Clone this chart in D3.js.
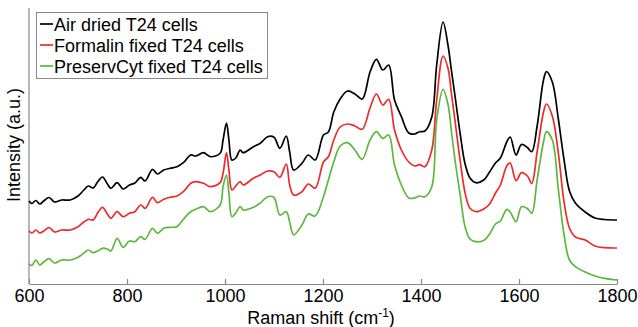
<!DOCTYPE html>
<html><head><meta charset="utf-8">
<script src="https://cdn.jsdelivr.net/npm/d3@7"></script>
<style>
html,body{margin:0;padding:0;background:#fff;}
svg{display:block;font-family:"Liberation Sans",Arial,sans-serif;}
</style></head>
<body>
<svg id="chart" width="638" height="327"></svg>
<script>
const shifts = [600,606,614,622,630,641,652,667,684,700,712,721,731,740,750,760,767,780,792,805,816,828,837,852,862,875,888,902,915,930,940,956,970,990,996,1003,1008,1014,1022,1031,1037,1058,1072,1087,1100,1112,1125,1132,1140,1157,1170,1184,1201,1211,1222,1235,1250,1265,1280,1296,1309,1322,1334,1346,1360,1375,1387,1397,1408,1422,1432,1445,1455,1462,1470,1480,1490,1500,1512,1528,1540,1552,1562,1575,1582,1594,1605,1617,1626,1637,1650,1656,1668,1680,1692,1703,1715,1735,1755,1775,1800];

const airDried = [83,80.5,83.5,80,83,86.5,82,84,84,88,94,98,96,102,107,100,95.7,101.3,95,99,101,106.7,103,114.7,110,114,115.7,117.3,121.3,129,128,131.3,127.3,130.7,144,161,144,124,126,134,131.3,137.3,140.7,147.3,146.7,135.7,148,132,114,120.7,129,124,149,152,172,185,193,190,185,212,224.7,214,219,184,167.3,151,150,152.3,153,167,219,262,239,214,186,150,120,106,101.3,104,112,121,126,142,147,129,139.5,136.5,132.3,158,204,212.3,202,166,124,93,81,72,66,64.5,64];

const formalinFixed = [53,51,54,51,53,56.5,52,54,54,57.3,62,64.7,64,71,76.7,70,65.7,72.3,67.3,70.7,72.3,79,75.7,86.7,81.3,84.7,86.7,88,92.3,100.7,102.3,100.7,97.3,101.3,110.7,131.3,114,94,98,102.3,99,105.7,109,113,112.3,106.7,120,99,89,92.3,100,95.7,122,127.3,144,157,160,158,154.7,176,190,179,184.7,154,134,122,118,119.3,117.3,134,184,228,216,191,161,123,91,75.7,72.3,75,80,91,99,118,121,103.3,111.3,108,100.7,132,172,180,168,132,82,56,47,44,38,36.3,36];

const preservCytFixed = [20,18.5,24,19,22,25.3,21,24,24,26.7,31,34,31.3,33,35.7,35,33,45.7,36.7,43,42.3,47.3,44.7,55.7,50.7,55.7,56.7,57.3,64.7,72.3,74.7,77.3,72.3,79,97.3,109,91,67.3,71,77.5,74,76.7,81,87.3,86.5,69,72.3,62,49,59,70,68,87.3,104,122,138,141.3,134,124.7,144,152.3,145.7,149,119,99,86,86,88,87.3,97.3,164,194.7,180,153,122,89,57,45,42.3,43.5,50,60,63,74.7,72,62.3,77.3,75.5,70.7,104,142,152.3,144,96,49,24,17.3,12,8,5.7,4];

const seriesNames = ["Air dried T24 cells","Formalin fixed T24 cells","PreservCyt fixed T24 cells"];
const seriesColors = ["#000000","#ee2b2b","#5cb83e"];
const xTicks = [600,800,1000,1200,1400,1600,1800];

const svg = d3.select("#chart");
const x = d3.scaleLinear().domain([600,1800]).range([29,617]);
const y = d3.scaleLinear().domain([0,280]).range([284,4]);

const series = [airDried, formalinFixed, preservCytFixed];

// axes
const xAxis = d3.axisBottom(x).tickValues(xTicks).tickSizeInner(-5).tickSizeOuter(0).tickPadding(5).tickFormat(d3.format("d"));
const gx = svg.append("g").attr("transform","translate(0,284)").call(xAxis);
gx.select(".domain").attr("stroke","#888").attr("stroke-width",1.2);
gx.selectAll(".tick line").attr("stroke","#888").attr("stroke-width",1.2);
gx.selectAll(".tick text").attr("font-size",18).attr("fill","#000").attr("font-family","Liberation Sans, Arial, sans-serif");

const yAxis = d3.axisLeft(y).tickValues([]).tickSizeOuter(0);
const gy = svg.append("g").attr("transform","translate(29,0)").call(yAxis);
gy.select(".domain").attr("stroke","#888").attr("stroke-width",1.2).attr("d","M0,284V8");

// lines
const line = d3.line().x((d,i)=>x(shifts[i])).y(d=>y(d)).curve(d3.curveCatmullRom.alpha(0.5));
series.forEach((s,k)=>{
  svg.append("path").datum(s).attr("d",line).attr("fill","none")
    .attr("stroke",seriesColors[k]).attr("stroke-width",1.7).attr("stroke-linejoin","round");
});

// axis labels
const xl = svg.append("text").attr("x",321).attr("y",324).attr("text-anchor","middle").attr("font-size",18).attr("fill","#000");
xl.append("tspan").text("Raman shift (cm");
xl.append("tspan").text("-1").attr("font-size",12).attr("dy",-7);
xl.append("tspan").text(")").attr("dy",7);

svg.append("text").attr("transform","translate(20,145) rotate(-90)").attr("text-anchor","middle")
  .attr("font-size",18).attr("fill","#000").text("Intensity (a.u.)");

// legend
const lg = svg.append("g");
lg.append("rect").attr("x",36.5).attr("y",12.5).attr("width",231).attr("height",66)
  .attr("fill","#fff").attr("stroke","#888").attr("stroke-width",1);
seriesNames.forEach((n,k)=>{
  const cy = 24 + k*21;
  lg.append("line").attr("x1",40).attr("x2",53).attr("y1",cy).attr("y2",cy)
    .attr("stroke",seriesColors[k]).attr("stroke-width",1.7);
  lg.append("text").attr("x",54).attr("y",cy+6.5).attr("font-size",18).attr("fill","#000").text(n);
});
</script>
</body></html>
